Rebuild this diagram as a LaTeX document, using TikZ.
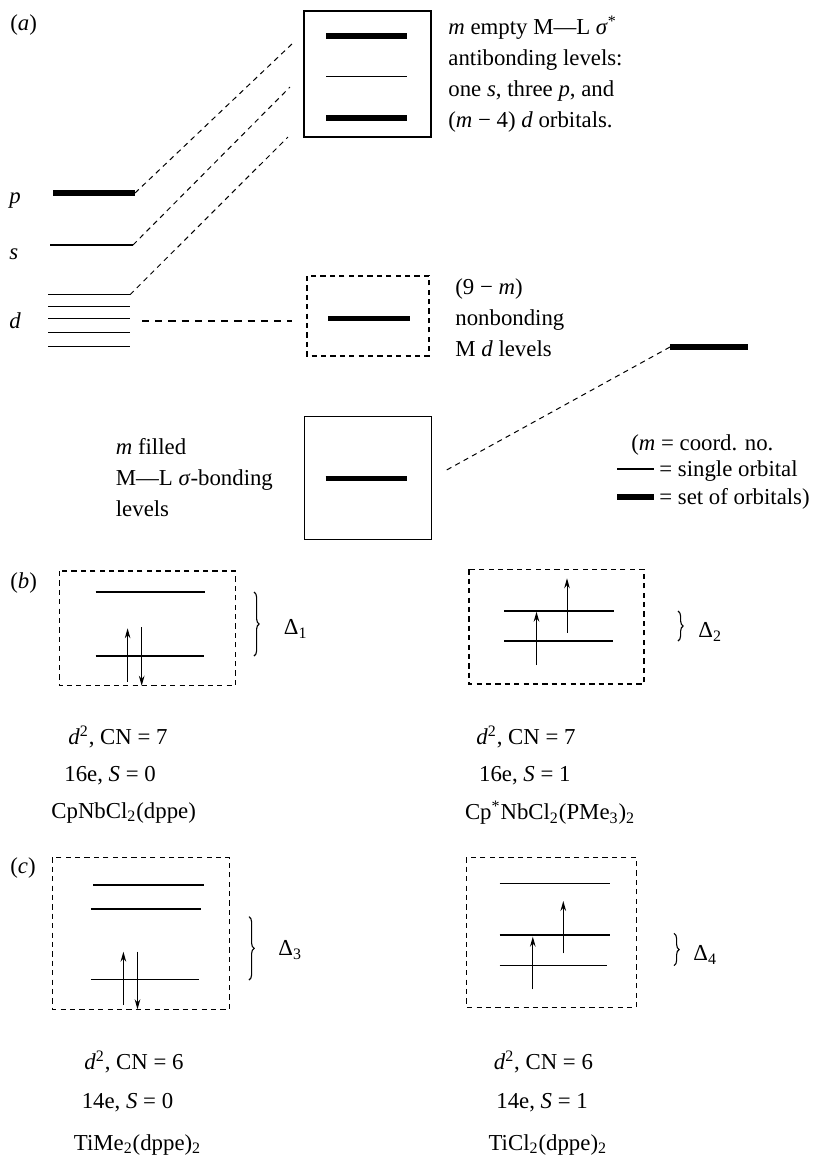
\documentclass[tikz,border=0pt]{standalone}
\usepackage{fontspec}
\setmainfont{Liberation Serif}
\usetikzlibrary{arrows.meta, decorations.pathreplacing}

\tikzset{
  thinlvl/.style={line width=0.65pt},
  thicklvl/.style={line width=2.6pt},
  mobox/.style={line width=0.7pt},
  nbbox/.style={line width=0.7pt, dash pattern=on 2.6pt off 2.1pt},
  corr/.style={line width=0.5pt, dash pattern=on 2.6pt off 2.2pt},
  spin/.style={line width=0.5pt, -{Stealth[length=5pt,width=2.8pt]}},
  gap/.style={decorate, decoration={brace, amplitude=2.6pt}, line width=0.55pt},
  lbl/.style={anchor=west, inner sep=0pt, font=\fontsize{11.4}{15.5}\selectfont, align=left},
}

\begin{document}
\begin{tikzpicture}[x=0.5pt, y=-0.5pt]
  \useasboundingbox (0,0) rectangle (823,1158);

  % (a) metal valence orbitals
  \node[lbl] (tagA) at (10,25) {(\textit{a})};
  \draw[thicklvl] (53,193) -- (135,193) coordinate (pR);
  \draw[thinlvl] (50,245) -- (133,245) coordinate (sR);
  \foreach \y [count=\i] in {294.7,306.7,318.3,332.3,346.7}
    \draw[thinlvl] (48,\y) -- (130,\y) coordinate (d\i R);
  \node[lbl] (lblP) at (9,201) {\textit{p}};
  \node[lbl] (lblS) at (9,254) {\textit{s}};
  \node[lbl] (lblD) at (9,321) {\textit{d}};

  % antibonding box
  \draw[mobox] (304,11) rectangle (431,137);
  \draw[thicklvl] (326,36) -- (407,36);
  \draw[thinlvl] (326,76.7) -- (407,76.7);
  \draw[thicklvl] (326,118) -- (407,118);
  \coordinate (abP) at (293,43);
  \coordinate (abS) at (290,87);
  \coordinate (abD) at (288,137);
  \draw[corr] (pR) -- (abP);
  \draw[corr] (sR) -- (abS);
  \draw[corr] (d1R) -- (abD);
  \node[lbl] (abTxt) at (448,74)
    {\textit{m} empty M—L \textit{σ}\textsuperscript{*}\\antibonding levels:\\
     one \textit{s}, three \textit{p}, and\\(\textit{m} − 4) \textit{d} orbitals.};

  % nonbonding box
  \draw[nbbox] (307,276) rectangle (429,356);
  \draw[thicklvl] (328,318.3) -- (410,318.3);
  \coordinate (dOut) at (142,321);
  \coordinate (nbIn) at (292,321);
  \draw[line width=0.9pt, dash pattern=on 3.6pt off 3pt] (dOut) -- (nbIn);
  \node[lbl] (nbTxt) at (455,318) {(9 − \textit{m})\\nonbonding\\M \textit{d} levels};

  % ligand levels and bonding box
  \draw[thicklvl] (670,347) coordinate (ligL) -- (748,347);
  \coordinate (bdR) at (443,472);
  \draw[corr] (ligL) -- (bdR);
  \draw[mobox] (304.5,416.7) rectangle (431.5,539.3);
  \draw[thicklvl] (325.5,478.3) -- (407.3,478.3);
  \node[lbl] (bdTxt) at (115.5,478) {\textit{m} filled\\M—L \textit{σ}-bonding\\levels};

  % legend
  \node[lbl] (legM) at (631,445) {(\textit{m} = coord. no.};
  \draw[thinlvl] (617,469) -- (654,469);
  \node[lbl] (legThin) at (659,471) {= single orbital};
  \draw[thicklvl] (617,497) -- (654,497);
  \node[lbl] (legThick) at (659,499) {= set of orbitals)};

  % (b) d2, CN = 7
  \node[lbl] (tagB) at (10,583) {(\textit{b})};
  \draw[nbbox] (59.3,571) rectangle (235.2,685.7);
  \draw[thinlvl] (95.5,592) -- (204.7,592);
  \draw[thinlvl] (95.5,656) -- (203.7,656);
  \coordinate (b1u0) at (127.6,681.7); \coordinate (b1u1) at (127.6,628.3);
  \coordinate (b1d0) at (141.7,627.3); \coordinate (b1d1) at (141.7,685.7);
  \draw[spin] (b1u0) -- (b1u1);
  \draw[spin] (b1d0) -- (b1d1);
  \draw[gap] (254,592) -- (254,656);
  \node[lbl] (del1) at (283.5,629) {Δ\textsubscript{1}};

  \draw[nbbox] (469,569.3) rectangle (644,684);
  \draw[thinlvl] (504.3,611) -- (614,611);
  \draw[thinlvl] (504.3,641) -- (612.6,641);
  \coordinate (b2a0) at (536.5,665); \coordinate (b2a1) at (536.5,611.7);
  \coordinate (b2b0) at (567,632.7); \coordinate (b2b1) at (567,578.3);
  \draw[spin] (b2a0) -- (b2a1);
  \draw[spin] (b2b0) -- (b2b1);
  \draw[gap] (678,611) -- (678,641);
  \node[lbl] (del2) at (698,632) {Δ\textsubscript{2}};

  \node[lbl] (b1l1) at (68,737) {\textit{d}\textsuperscript{2}, CN = 7};
  \node[lbl] (b1l2) at (64,776) {16e, \textit{S} = 0};
  \node[lbl] (b1l3) at (51,813) {CpNbCl\textsubscript{2}(dppe)};
  \node[lbl] (b2l1) at (476,737) {\textit{d}\textsuperscript{2}, CN = 7};
  \node[lbl] (b2l2) at (478.7,776) {16e, \textit{S} = 1};
  \node[lbl] (b2l3) at (464.6,813) {Cp\textsuperscript{*}NbCl\textsubscript{2}(PMe\textsubscript{3})\textsubscript{2}};

  % (c) d2, CN = 6
  \node[lbl] (tagC) at (10,868) {(\textit{c})};
  \draw[nbbox] (52.7,857.3) rectangle (229.3,1009.3);
  \draw[thinlvl] (93,885) -- (203.7,885);
  \draw[thinlvl] (90.8,909) -- (201,909);
  \draw[thinlvl] (90.8,979.5) -- (199,979.5);
  \coordinate (c1u0) at (123.4,1005); \coordinate (c1u1) at (123.4,951.7);
  \coordinate (c1d0) at (137.5,951.7); \coordinate (c1d1) at (137.5,1009.3);
  \draw[spin] (c1u0) -- (c1u1);
  \draw[spin] (c1d0) -- (c1d1);
  \draw[gap] (249,916.7) -- (249,980);
  \node[lbl] (del3) at (278,950) {Δ\textsubscript{3}};

  \draw[nbbox] (466.7,857.3) rectangle (636.2,1007.3);
  \draw[thinlvl] (499.7,883.3) -- (610,883.3);
  \draw[thinlvl] (499.7,935) -- (610,935);
  \draw[thinlvl] (499.7,965.7) -- (607.3,965.7);
  \coordinate (c2a0) at (532.8,989.3); \coordinate (c2a1) at (532.8,936.7);
  \coordinate (c2b0) at (563.3,953.3); \coordinate (c2b1) at (563.3,901);
  \draw[spin] (c2a0) -- (c2a1);
  \draw[spin] (c2b0) -- (c2b1);
  \draw[gap] (674,933.3) -- (674,965.7);
  \node[lbl] (del4) at (693,955) {Δ\textsubscript{4}};

  \node[lbl] (c1l1) at (84,1062) {\textit{d}\textsuperscript{2}, CN = 6};
  \node[lbl] (c1l2) at (81.4,1103) {14e, \textit{S} = 0};
  \node[lbl] (c1l3) at (73.5,1145) {TiMe\textsubscript{2}(dppe)\textsubscript{2}};
  \node[lbl] (c2l1) at (493.4,1062) {\textit{d}\textsuperscript{2}, CN = 6};
  \node[lbl] (c2l2) at (496,1103) {14e, \textit{S} = 1};
  \node[lbl] (c2l3) at (488.2,1145) {TiCl\textsubscript{2}(dppe)\textsubscript{2}};
\end{tikzpicture}
\end{document}
